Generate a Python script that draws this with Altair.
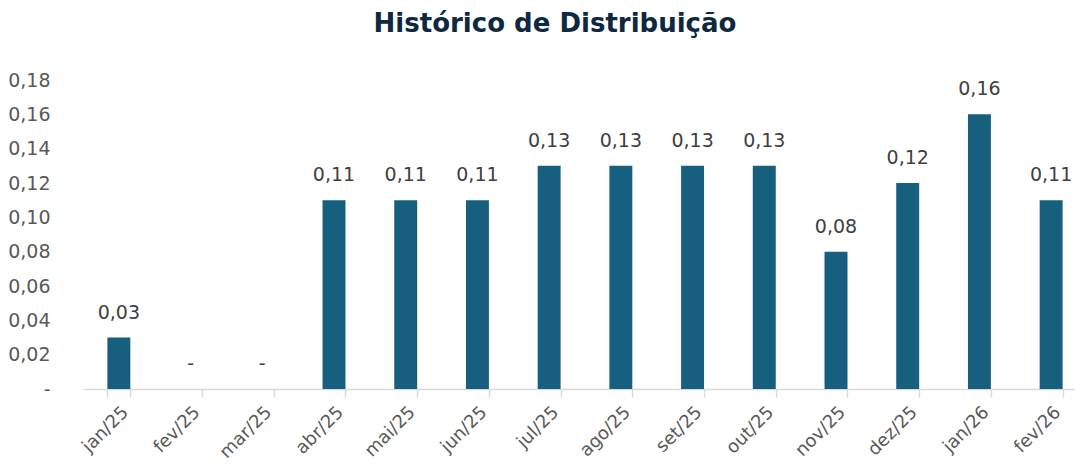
import altair as alt
import pandas as pd

months = ["jan/25", "fev/25", "mar/25", "abr/25", "mai/25", "jun/25", "jul/25",
          "ago/25", "set/25", "out/25", "nov/25", "dez/25", "jan/26", "fev/26"]
values = [0.03, 0.0, 0.0, 0.11, 0.11, 0.11, 0.13, 0.13, 0.13, 0.13, 0.08, 0.12, 0.16, 0.11]
y_ticks = [0.0, 0.02, 0.04, 0.06, 0.08, 0.10, 0.12, 0.14, 0.16, 0.18]

df = pd.DataFrame({"mes": months, "valor": values})
df["rotulo"] = ["-" if v == 0 else f"{v:.2f}".replace(".", ",") for v in values]

FONT = "DejaVu Sans"

x_enc = alt.X("mes:N", sort=months, title=None,
              scale=alt.Scale(paddingInner=0.68, paddingOuter=0.34, range=[0, 1004]),
              axis=alt.Axis(labelAngle=-45, labelFontSize=18, labelColor="#595959",
                            labelFont=FONT, domainColor="#d9d9d9", domainWidth=1.5,
                            tickColor="#d9d9d9", tickWidth=1.5, tickSize=8, tickBand="extent",
                            labelPadding=6, grid=False, labelOverlap=False))
y_enc = alt.Y("valor:Q", title=None,
              scale=alt.Scale(domain=[0, 0.18], nice=False),
              axis=alt.Axis(values=y_ticks, domain=False, ticks=False, tickSize=0, grid=False,
                            labelExpr="datum.value == 0 ? '-' : replace(format(datum.value, '.2f'), '.', ',')",
                            labelFontSize=19, labelColor="#595959", labelFont=FONT,
                            labelPadding=33, labelOverlap=False, labelBound=False,
                            labelFlush=False))

base = alt.Chart(df).encode(x=x_enc, y=y_enc)
bars = base.mark_bar(color="#175F7F")
labels = base.mark_text(dy=-19, baseline="alphabetic", fontSize=19,
                        font=FONT, color="#404040").encode(text="rotulo:N")

chart = (bars + labels).properties(
    width=992, height=309,
    autosize=alt.AutoSizeParams(type="none"),
    padding={"left": 75, "top": 72, "right": 0, "bottom": 75},
    title=alt.TitleParams("Histórico de Distribuição", fontSize=26, font=FONT,
                          fontWeight="bold", color="#0E2841", anchor="middle",
                          frame="group", dx=-24, offset=34),
).configure_view(stroke=None)

chart.save("out.html", embed_options={"renderer": "svg", "actions": False})
